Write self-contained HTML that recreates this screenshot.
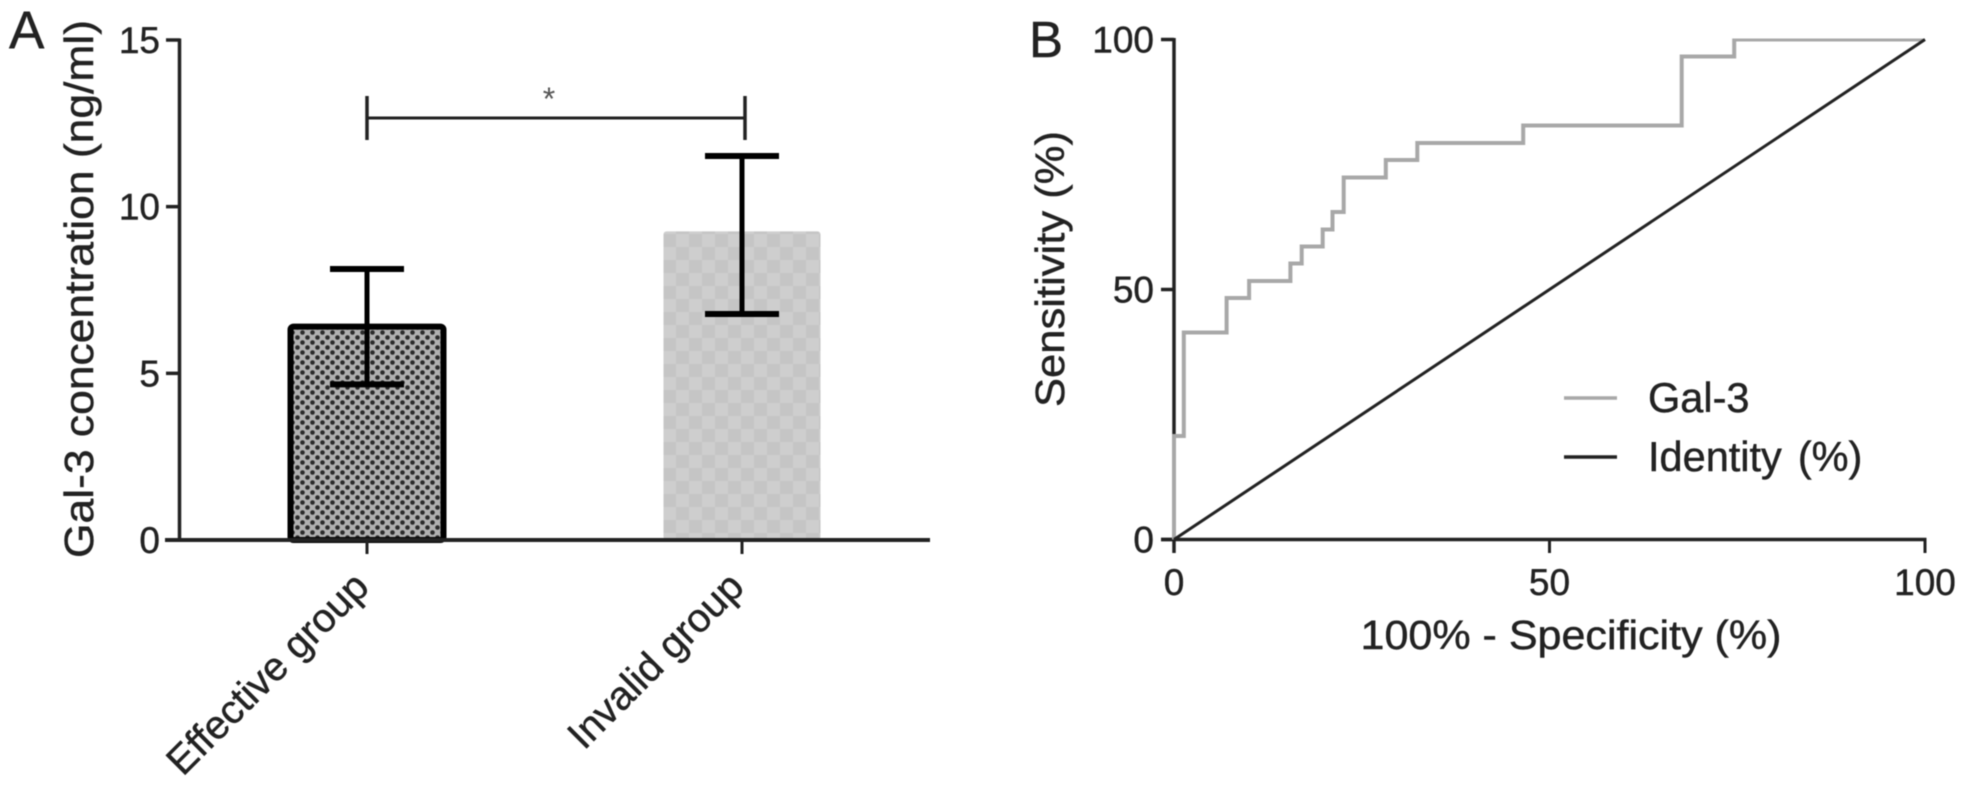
<!DOCTYPE html>
<html lang="en">
<head>
<meta charset="utf-8">
<title>Gal-3 concentration and ROC curve</title>
<style>
html,body{margin:0;padding:0;background:#fff;width:1964px;height:788px;overflow:hidden}
svg{display:block;filter:blur(0.6px)}
text{font-family:"Liberation Sans",sans-serif;fill:#222;stroke:#222;stroke-width:.45px}
</style>
</head>
<body>
<svg id="figure" xmlns="http://www.w3.org/2000/svg" width="1964" height="788" viewBox="0 0 1964 788">
<defs>
<pattern id="dots" width="10" height="10" patternUnits="userSpaceOnUse">
<rect width="10" height="10" fill="#b0b0b0"/>
<circle cx="2.5" cy="2.5" r="2.3" fill="#2a2a2a"/>
<circle cx="7.5" cy="7.5" r="2.3" fill="#2a2a2a"/>
</pattern>
<pattern id="checks" width="26" height="26" patternUnits="userSpaceOnUse">
<rect width="26" height="26" fill="#c5c5c5"/>
<rect width="13" height="13" fill="#cecece"/>
<rect x="13" y="13" width="13" height="13" fill="#cecece"/>
</pattern>
<clipPath id="roc-clip"><rect x="1160" y="38.5" width="780" height="520"/></clipPath>
</defs>
<g id="panel-a"></g>
<g id="panel-b"></g>
</svg>
<script>
// Panel A data
const barCategories = ['Effective group', 'Invalid group'];
const barMeans = [6.4, 9.2];
const barErrUpper = [8.13, 11.52];
const barErrLower = [4.67, 6.78];
const barTicks = [0, 5, 10, 15];
const barSignificance = '*';

// Panel B data
const rocFpr = [0, 0, 1.3, 1.3, 7, 7, 10, 10, 15.5, 15.5, 17, 17, 19.8, 19.8, 21.1, 21.1, 22.6, 22.6, 28.2, 28.2, 32.4, 32.4, 46.5, 46.5, 67.6, 67.6, 74.6, 74.6, 100];
const rocTpr = [0, 20.7, 20.7, 41.4, 41.4, 48.3, 48.3, 51.7, 51.7, 55.2, 55.2, 58.6, 58.6, 62, 62, 65.5, 65.5, 72.4, 72.4, 75.9, 75.9, 79.3, 79.3, 82.8, 82.8, 96.6, 96.6, 100, 100];
const identityFpr = [0, 100];
const identityTpr = [0, 100];
const rocTicks = [0, 50, 100];
const legendNames = ['Gal-3', 'Identity'];
const legendUnits = ['', '(%)'];

const NS = 'http://www.w3.org/2000/svg';
const panelA = document.getElementById('panel-a');
const panelB = document.getElementById('panel-b');

function mk(parent, tag, attrs, txt) {
  const el = document.createElementNS(NS, tag);
  for (const k in attrs) el.setAttribute(k, attrs[k]);
  if (txt !== undefined) el.textContent = txt;
  parent.appendChild(el);
  return el;
}
function seg(parent, x1, y1, x2, y2, color, w) {
  return mk(parent, 'line', {x1: x1, y1: y1, x2: x2, y2: y2, stroke: color, 'stroke-width': w});
}

// Axis functions
const yA = v => 540 - v * (500 / 15);
const xA = i => 367 + i * 375;
const xB = v => 1174 + v * 7.51;
const yB = v => 539.5 - v * 5;
const barWidth = 153;
const capHalf = 37;

let el;

// Panel letters
el = mk(panelA, 'text', {x: 9, y: 48, 'font-size': 53}, 'A');


el = mk(panelB, 'text', {x: 1029, y: 57, 'font-size': 51}, 'B');



// Panel A bars
barCategories.forEach((c, i) => {
  const x = xA(i) - barWidth / 2;
  const top = yA(barMeans[i]);
  let bar;
  if (i === 0) {
    bar = mk(panelA, 'rect', {x: x, y: top, width: barWidth, height: yA(0) - top, rx: 3, fill: 'url(#dots)', stroke: '#000', 'stroke-width': 6});
  } else {
    bar = mk(panelA, 'rect', {x: x - 2, y: top - 2, width: barWidth + 4, height: yA(0) - top + 2, rx: 3, fill: 'url(#checks)'});
  }
  
  
});

// Panel A axes
el = seg(panelA, 179.5, yA(15) - 1.5, 179.5, yA(0), '#222', 3.5);


el = seg(panelA, 165, yA(0), 930, yA(0), '#222', 4);



barTicks.forEach(v => {
  const t = seg(panelA, 166, yA(v), 180, yA(v), '#222', 3.5);
  
  
  const l = mk(panelA, 'text', {x: 160, y: yA(v) + 13, 'font-size': 37, 'text-anchor': 'end'}, String(v));
  
  
});

// Panel A error bars
barCategories.forEach((c, i) => {
  const x = xA(i);
  const stem = seg(panelA, x, yA(barErrUpper[i]), x, yA(barErrLower[i]), '#000', 5);
  
  
  const capU = seg(panelA, x - capHalf, yA(barErrUpper[i]), x + capHalf, yA(barErrUpper[i]), '#000', 6);
  
  
  const capL = seg(panelA, x - capHalf, yA(barErrLower[i]), x + capHalf, yA(barErrLower[i]), '#000', 6);
  
  

  const t = seg(panelA, x, yA(0), x, 554, '#222', 3);
  
  
  const l = mk(panelA, 'text', {x: 0, y: 0, 'font-size': 40, 'text-anchor': 'end', transform: 'translate(' + (x + 4) + ' 589) rotate(-45)'}, c);
  
  
});

// Significance bracket
el = seg(panelA, 367, 118, 744, 118, '#222', 3);


el = seg(panelA, 367, 96, 367, 140, '#222', 3.5);


el = seg(panelA, 745, 96, 745, 140, '#222', 3.5);


el = mk(panelA, 'text', {x: 549, y: 110, 'font-size': 32, 'text-anchor': 'middle'}, barSignificance);
el.style.fill = '#555';
el.style.stroke = 'none';



// Panel A y title
el = mk(panelA, 'text', {x: 0, y: 0, 'font-size': 41, 'text-anchor': 'middle', textLength: 538, lengthAdjust: 'spacingAndGlyphs', transform: 'translate(93 289) rotate(-90)'}, 'Gal-3 concentration (ng/ml)');



// Panel B series
const toPath = (xs, ys) => xs.map((v, i) => (i ? 'L' : 'M') + xB(v).toFixed(1) + ' ' + yB(ys[i]).toFixed(1)).join(' ');

// Panel B axes
el = seg(panelB, 1174, yB(100) - 1.5, 1174, 553, '#222', 3.5);


el = seg(panelB, 1161, yB(0), xB(100) + 1.5, yB(0), '#222', 3.5);



rocTicks.forEach(v => {
  const t = seg(panelB, 1161, yB(v), 1174, yB(v), '#222', 3.5);
  
  
  const l = mk(panelB, 'text', {x: 1154, y: yB(v) + 13, 'font-size': 37, 'text-anchor': 'end'}, String(v));
  
  
  const tx = seg(panelB, xB(v), yB(0), xB(v), 553, '#222', 3);
  
  
  const lx = mk(panelB, 'text', {x: xB(v), y: 595, 'font-size': 37, 'text-anchor': 'middle'}, String(v));
  
  
});

el = mk(panelB, 'path', {d: toPath(rocFpr, rocTpr), fill: 'none', stroke: '#a8a8a8', 'stroke-width': 4, 'clip-path': 'url(#roc-clip)'});


el = mk(panelB, 'path', {d: toPath(identityFpr, identityTpr), fill: 'none', stroke: '#222', 'stroke-width': 3});



// Panel B titles
el = mk(panelB, 'text', {x: 1571, y: 649, 'font-size': 41, 'text-anchor': 'middle', textLength: 421, lengthAdjust: 'spacingAndGlyphs'}, '100% - Specificity (%)');


el = mk(panelB, 'text', {x: 0, y: 0, 'font-size': 41, 'text-anchor': 'middle', textLength: 276, lengthAdjust: 'spacingAndGlyphs', transform: 'translate(1064 269) rotate(-90)'}, 'Sensitivity (%)');



// Legend
const legendColors = ['#a8a8a8', '#222'];
legendNames.forEach((s, i) => {
  const y = 398 + i * 59;
  const sw = seg(panelB, 1564, y, 1617, y, legendColors[i], 3.5);
  
  
  const l = mk(panelB, 'text', {x: 1648, y: y + 14, 'font-size': 41.5}, s);
  
  
  if (legendUnits[i]) mk(l, 'tspan', {dx: 16}, legendUnits[i]);
});
</script>
</body>
</html>
